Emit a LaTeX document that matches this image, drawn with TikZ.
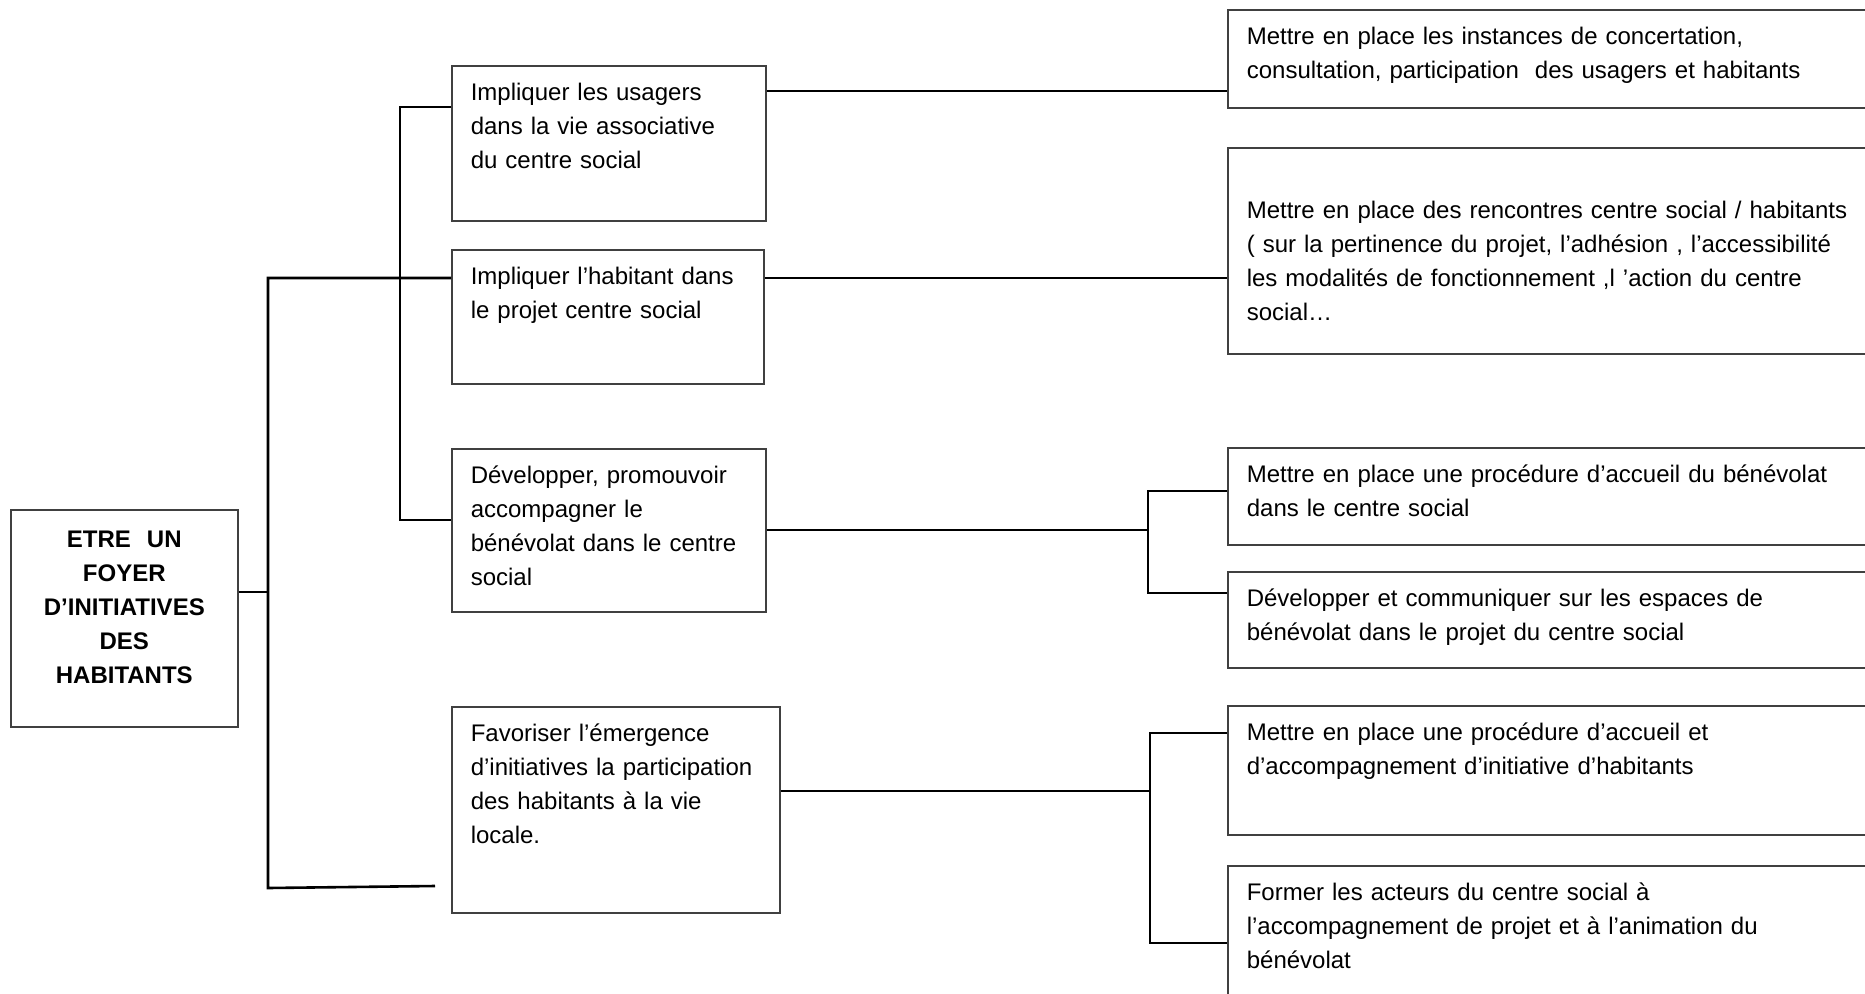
\documentclass[tikz,border=0pt]{standalone}
\usepackage{fontspec}
\setmainfont{Liberation Sans}
\usepackage{tikz}

\newcommand{\cellfont}{\fontsize{24}{34}\selectfont}

\begin{document}
\begin{tikzpicture}[
    x=1pt, y=-1pt,
    cell/.style 2 args={rectangle, draw=black!75, line width=1.6pt, anchor=north west, align=left, inner xsep=19pt, inner ysep=11pt, text width=#1pt, text height=24pt, text depth=#2pt, font=\cellfont},
    goal/.style={cell={189}{168}, align=center, text height=27pt, font=\cellfont\bfseries},
    link/.style={draw=black, line width=2.6pt}
]
    \useasboundingbox (0,0) rectangle (1865,993);
    \clip (0,0) rectangle (1865,993);

    % Root
    \node[goal] (ROOT) at (10,509) {ETRE~ UN\\FOYER\\D’INITIATIVES\\DES\\HABITANTS};

    % Axes
    \node[cell={276}{109}] (AX1) at (451,65) {Impliquer les usagers\\dans la vie associative\\du centre social};
    \node[cell={274}{88}] (AX2) at (451,249) {Impliquer l’habitant dans\\le projet centre social};
    \node[cell={276}{117}] (AX3) at (451,448) {Développer, promouvoir\\accompagner le\\bénévolat dans le centre\\social};
    \node[cell={290}{160}] (AX4) at (451,706) {Favoriser l’émergence\\d’initiatives la participation\\des habitants à la vie\\locale.};

    % Actions
    \node[cell={662}{52}] (AC1) at (1227,9) {Mettre en place les instances de concertation,\\consultation, participation~ des usagers et habitants};
    \node[cell={662}{124}, text height=60pt] (AC2) at (1227,147) {Mettre en place des rencontres centre social / habitants\\( sur la pertinence du projet, l’adhésion , l’accessibilité\\les modalités de fonctionnement ,l ’action du centre\\social…};
    \node[cell={662}{51}] (AC3) at (1227,447) {Mettre en place une procédure d’accueil du bénévolat\\dans le centre social};
    \node[cell={662}{50}] (AC4) at (1227,571) {Développer et communiquer sur les espaces de\\bénévolat dans le projet du centre social};
    \node[cell={662}{83}] (AC5) at (1227,705) {Mettre en place une procédure d’accueil et\\d’accompagnement d’initiative d’habitants};
    \node[cell={662}{114}] (AC6) at (1227,865) {Former les acteurs du centre social à\\l’accompagnement de projet et à l’animation du\\bénévolat};

    % Junctions
    \coordinate (r1) at (268,592);
    \coordinate (o1) at (268,278);
    \coordinate (o2) at (268,888);
    \coordinate (o3) at (435,886);
    \coordinate (i1) at (400,107);
    \coordinate (i2) at (400,520);
    \coordinate (e1) at (0,91);
    \coordinate (pc) at (1148,530);
    \coordinate (p1) at (1148,491);
    \coordinate (p2) at (1148,593);
    \coordinate (qc) at (1150,791);
    \coordinate (q1) at (1150,733);
    \coordinate (q2) at (1150,943);

    % Connectors
    \draw[link] (ROOT.east |- r1) -- (r1);
    \draw[link] (AX2.west |- o1) -- (o1) -- (o2) -- (o3);
    \draw[link] (AX1.west |- i1) -- (i1) -- (i2) -- (AX3.west |- i2);
    \draw[link] (AX1.east |- e1) -- (AC1.west |- e1);
    \draw[link] (AX2.east |- o1) -- (AC2.west |- o1);
    \draw[link] (AX3.east |- pc) -- (pc);
    \draw[link] (AC3.west |- p1) -- (p1) -- (p2) -- (AC4.west |- p2);
    \draw[link] (AX4.east |- qc) -- (qc);
    \draw[link] (AC5.west |- q1) -- (q1) -- (q2) -- (AC6.west |- q2);
\end{tikzpicture}
\end{document}
